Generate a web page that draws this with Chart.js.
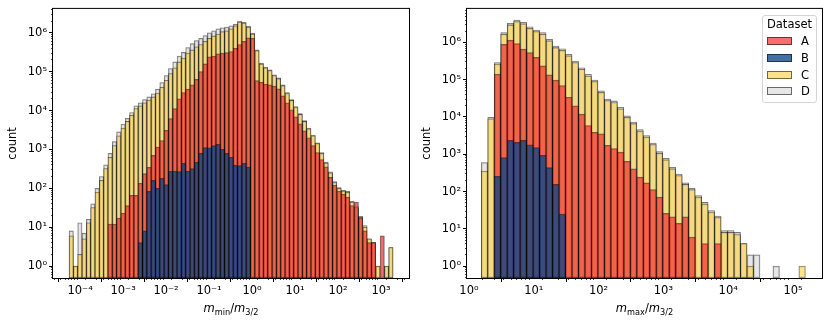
<!DOCTYPE html>
<html>
<head>
<meta charset="utf-8">
<script src="https://cdn.jsdelivr.net/npm/chart.js@4.4.1/dist/chart.umd.min.js"></script>
<style>
  body { margin: 0; background: #fff; }
  #wrap { position: relative; width: 830px; height: 325px; }
  .panel { position: absolute; top: 0; }
  #legend {
    position: absolute; left: 762px; top: 15px; width: 55px; height: 88px;
    border: 1px solid #d4d4d4; border-radius: 3px; background: #fff; box-sizing: border-box;
    font-family: "DejaVu Sans"; font-size: 11.5px; color: #000;
  }
  #legend .ttl { position: absolute; left: 0; right: 0; top: 1px; text-align: center; line-height: 14px; }
  #legend .row { position: absolute; left: 4px; height: 14px; line-height: 14px; }
  #legend .patch { position: absolute; left: 0; top: 3px; width: 25px; height: 8px; box-sizing: border-box; border: 1px solid rgba(0,0,0,0.55); }
  #legend .lab { position: absolute; left: 34px; top: 0; }
</style>
</head>
<body>
<div id="wrap">
  <canvas id="left" class="panel" style="left:0" width="415" height="325"></canvas>
  <canvas id="right" class="panel" style="left:415px" width="415" height="325"></canvas>
  <div id="legend"><div class="ttl">Dataset</div></div>
</div>
<script>
// categories and bins
const seriesNames = ['A', 'B', 'C', 'D'];
const leftBinRange = [-4.256, 3.279];   // log10 of outer bin edges, m_min / m_3/2
const rightBinRange = [0.19, 5.19];     // log10 of outer bin edges, m_max / m_3/2
const leftXTicks = [1e-4, 1e-3, 1e-2, 1e-1, 1, 10, 100, 1000];
const rightXTicks = [1, 10, 100, 1000, 1e4, 1e5];
const yTicks = [1, 10, 100, 1000, 1e4, 1e5, 1e6];

// left panel counts (75 bins)
const leftA = [null, null, null, null, null, null, null, null, null,
  12, 12, 17, 23, 36, 66, 66, 135, 240, 347,
  708, 1150, 1700, 3090, 6170, 11200, 20000, 28800, 35500, 45700,
  63100, 100000, 158000, 240000, 251000, 288000, 302000, 309000, 331000, 398000,
  501000, 603000, 741000, 724000, 58900, 53700, 47900, 45700, 42700, 36300,
  24000, 15800, 10500, 6920, 4570, 3020, 2000, 1260, 832, 550,
  355, 190, 120, 85, 71, 59, 36, 44, 17, 8,
  4, 4, null, 6, null, null];
const leftB = [null, null, null, null, null, null, null, null, null, null, null, null, null, null, null, null,
  4, 8, 83, 160, 100, 180, 125, 275, 275, 270,
  440, 275, 320, 470, 800, 1120, 1100, 1250, 1350, 1000,
  790, 630, 390, 385, 440, 350,
  null, null, null, null, null, null, null, null, null, null, null, null, null, null, null, null, null,
  null, null, null, null, null, null, null, null, null, null, null, null, null, null, null, null];
const leftC = [6, 1, 2, 5, 13, 32, 80, 160, 320, 630,
  1260, 2240, 3550, 5250, 7600, 11200, 13200, 15800, 18600, 22400,
  28200, 39800, 60300, 89100, 126000, 178000, 224000, 302000, 363000, 437000,
  501000, 603000, 724000, 832000, 933000, 1070000, 1120000, 1260000, 1510000, 1900000,
  1780000, 1410000, 933000, 347000, 158000, 126000, 107000, 79400, 66100, 43600,
  27500, 18200, 12000, 7940, 5250, 3390, 2240, 1410, 794, 447,
  251, 141, 100, 85, 79, 44, 32, 18, 10, 5,
  4, 1, null, 1, 3];
const leftD = [8, 1, 13, 7, 16, 40, 100, 200, 400, 794,
  1580, 2820, 4470, 6310, 8910, 13200, 15800, 19100, 22400, 26900,
  35500, 52500, 79400, 120000, 178000, 251000, 316000, 417000, 525000, 631000,
  724000, 851000, 1000000, 1120000, 1260000, 1350000, 1410000, 1510000, 1660000, 2000000,
  1860000, 1480000, 977000, 365000, 166000, 132000, 112000, 83400, 69400, 45800,
  28900, 19100, 12600, 8340, 5510, 3560, 2350, 1480, 834, 469,
  264, 148, 105, 89, 83, 46, 34, 19, 11, 5,
  4, 1, null, 1, 3];

// right panel counts (50 bins)
const rightA = [null, null, 141000, 891000, 1150000, 933000, 661000, 537000, 398000, 234000,
  135000, 97700, 69200, 33900, 20000, 12000, 5890, 3890, 3550, 1740,
  1410, 1150, 646, 407, 245, 170, 112, 71, 26, 21,
  14, 21, 6, null, 4, null, 4, null, null, null,
  null, null, null, null, null, null, null, null, null, null];
const rightB = [null, null, 255, 810, 2350, 2100, 2350, 1800, 1500, 930,
  440, 155, 25, null, null, null, null, null, null, null,
  null, null, null, null, null, null, null, null, null, null,
  null, null, null, null, null, null, null, null, null, null,
  null, null, null, null, null, null, null, null, null, null];
const rightC = [355, 8900, 263000, 1660000, 2950000, 3630000, 3160000, 2400000, 1950000, 1660000,
  1100000, 724000, 617000, 437000, 288000, 191000, 126000, 89100, 45700, 27500,
  24500, 16600, 9770, 6610, 4170, 2880, 1820, 1070, 708, 407,
  269, 155, 112, 71, 46, 28, 20, 8, 8, 7,
  4, 1, null, null, null, null, null, null, null, 1];
const rightD = [600, 9800, 289000, 1830000, 3250000, 4000000, 3480000, 2640000, 2150000, 1830000,
  1210000, 796000, 679000, 481000, 317000, 210000, 139000, 98000, 50300, 30300,
  27000, 18300, 10700, 7270, 4590, 3170, 2000, 1180, 779, 448,
  296, 171, 123, 78, 51, 31, 22, 9, 9, 8,
  4, 2, 2, null, null, 1, null, null, null, null];

const fills = ['rgba(240,50,50,0.7)', 'rgba(5,65,135,0.75)', 'rgba(252,214,91,0.7)', 'rgba(215,215,215,0.6)'];
const drawOrder = [1, 0, 2, 3];   // B on top, then A, C, D underneath
const edge = 'rgba(0,0,0,0.55)';
const FONT = 'DejaVu Sans';

Chart.defaults.font.family = FONT;
Chart.defaults.color = '#000';

function binCenters(range, n) {
  const w = (range[1] - range[0]) / n;
  return Array.from({length: n}, (_, i) => Math.pow(10, range[0] + (i + 0.5) * w));
}

function minorTicks(lo, hi) {
  const out = [];
  for (let e = Math.floor(Math.log10(lo)); e <= Math.ceil(Math.log10(hi)); e++) {
    for (let m = 2; m < 10; m++) {
      const v = m * Math.pow(10, e);
      if (v > lo && v < hi) out.push(v);
    }
  }
  return out;
}

const SUP = {'-': '\u207B', '0': '\u2070', '1': '\u00B9', '2': '\u00B2', '3': '\u00B3',
  '4': '\u2074', '5': '\u2075', '6': '\u2076', '7': '\u2077', '8': '\u2078', '9': '\u2079'};
const pow10 = v => '10' + String(Math.round(Math.log10(v))).split('').map(c => SUP[c]).join('');

// black box round the plot area
const frame = {
  id: 'frame',
  afterDraw(chart) {
    const {ctx, chartArea: a} = chart;
    ctx.save();
    ctx.strokeStyle = '#000';
    ctx.lineWidth = 1;
    ctx.strokeRect(a.left - 0.5, a.top - 0.5, a.right - a.left + 1, a.bottom - a.top + 1);
    ctx.restore();
  }
};

// x label like m_min / m_3/2
const mathLabel = {
  id: 'mathLabel',
  afterDraw(chart, args, opts) {
    const {ctx, chartArea: a} = chart;
    const big = '11.5px "' + FONT + '"', ital = 'oblique 11.5px "' + FONT + '"', small = '8.2px "' + FONT + '"';
    const parts = [
      {t: 'm', f: ital, dy: 0}, {t: opts.sub, f: small, dy: 2.6},
      {t: '/', f: big, dy: 0},
      {t: 'm', f: ital, dy: 0}, {t: '3/2', f: small, dy: 2.6}
    ];
    ctx.save();
    let w = 0;
    parts.forEach(p => { ctx.font = p.f; p.w = ctx.measureText(p.t).width; w += p.w; });
    let x = (a.left + a.right) / 2 - w / 2;
    ctx.fillStyle = '#000';
    ctx.textBaseline = 'alphabetic';
    parts.forEach(p => { ctx.font = p.f; ctx.fillText(p.t, x, opts.y + p.dy); x += p.w; });
    ctx.restore();
  }
};

function histChart(id, cfg) {
  const tickFont = {family: FONT, size: 11.5};
  return new Chart(document.getElementById(id), {
    type: 'bar',
    data: {
      labels: cfg.centers,
      datasets: seriesNames.map((name, k) => ({
        label: name,
        data: cfg.series[k],
        order: drawOrder[k],
        xAxisID: 'x',
        yAxisID: 'y',
        backgroundColor: fills[k],
        borderColor: edge,
        borderWidth: 0.8,
        borderSkipped: false,
        grouped: false,
        barPercentage: 1,
        categoryPercentage: 1
      }))
    },
    options: {
      responsive: false,
      animation: false,
      events: [],
      layout: {padding: {top: 8, right: cfg.padRight, left: 0, bottom: 0}},
      plugins: {
        legend: {display: false},
        tooltip: {enabled: false},
        mathLabel: {sub: cfg.sub, y: 312}
      },
      scales: {
        x: {
          type: 'logarithmic', position: 'bottom', bounds: 'data',
          min: cfg.xMin, max: cfg.xMax,
          afterBuildTicks: s => { s.ticks = cfg.xTicks.map(v => ({value: v})); },
          afterFit: s => { s.height = 47; },
          ticks: {autoSkip: false, maxRotation: 0, padding: 2, color: '#000', font: tickFont, callback: v => pow10(v)},
          grid: {drawOnChartArea: false, tickLength: 4, tickColor: '#000', tickWidth: 1},
          border: {display: false}
        },
        y: {
          type: 'logarithmic', position: 'left', bounds: 'data',
          min: cfg.yMin, max: cfg.yMax,
          afterBuildTicks: s => { s.ticks = yTicks.map(v => ({value: v})); },
          afterFit: s => { s.width = cfg.yWidth; },
          ticks: {autoSkip: false, padding: 2, color: '#000', font: tickFont, callback: v => pow10(v)},
          grid: {drawOnChartArea: false, tickLength: 4, tickColor: '#000', tickWidth: 1},
          border: {display: false},
          title: {display: true, text: 'count', color: '#000', font: tickFont, padding: {top: cfg.titlePad, bottom: 0}}
        },
        xMinor: {
          type: 'logarithmic', position: {y: cfg.yMin}, bounds: 'data',
          min: cfg.xMin, max: cfg.xMax,
          afterBuildTicks: s => { s.ticks = minorTicks(cfg.xMin, cfg.xMax).map(v => ({value: v})); },
          ticks: {display: false},
          grid: {drawOnChartArea: false, tickLength: 2, tickColor: '#000', tickWidth: 0.7},
          border: {display: false}
        },
        yMinor: {
          type: 'logarithmic', position: {x: cfg.xMin}, bounds: 'data',
          min: cfg.yMin, max: cfg.yMax,
          afterBuildTicks: s => { s.ticks = minorTicks(cfg.yMin, cfg.yMax).map(v => ({value: v})); },
          ticks: {display: false},
          grid: {drawOnChartArea: false, tickLength: 2, tickColor: '#000', tickWidth: 0.7},
          border: {display: false}
        }
      }
    },
    plugins: [frame, mathLabel]
  });
}

histChart('left', {
  centers: binCenters(leftBinRange, leftA.length),
  series: [leftA, leftB, leftC, leftD],
  xMin: Math.pow(10, -4.63), xMax: Math.pow(10, 3.65),
  yMin: Math.pow(10, -0.308), yMax: Math.pow(10, 6.615),
  xTicks: leftXTicks, sub: 'min', yWidth: 53, padRight: 6, titlePad: 6
});

const rightChart = histChart('right', {
  centers: binCenters(rightBinRange, rightA.length),
  series: [rightA, rightB, rightC, rightD],
  xMin: Math.pow(10, -0.03), xMax: Math.pow(10, 5.447),
  yMin: Math.pow(10, -0.32), yMax: Math.pow(10, 6.9),
  xTicks: rightXTicks, sub: 'max', yWidth: 52, padRight: 8, titlePad: 5
});

// legend box in the right panel
const legendBox = document.getElementById('legend');
rightChart.data.datasets.forEach((ds, i) => {
  const row = document.createElement('div');
  row.className = 'row';
  row.style.top = (18 + i * 16.8) + 'px';
  row.innerHTML = '<span class="patch" style="background:' + ds.backgroundColor + '"></span><span class="lab">' + ds.label + '</span>';
  legendBox.appendChild(row);
});
</script>
</body>
</html>
